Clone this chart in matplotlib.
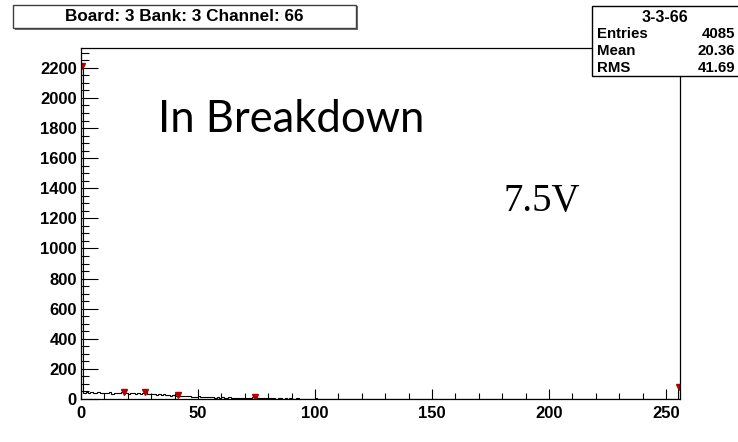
import matplotlib

matplotlib.use("Agg")
import matplotlib.pyplot as plt
import numpy as np
from matplotlib.patches import Rectangle
from matplotlib.ticker import MultipleLocator

# ADC counts per bin (256 bins, 0..255)
counts = [
    2212, 42, 45, 40, 44, 38, 41, 46, 39, 43, 37, 40, 44, 36, 42, 39,
    41, 45, 48, 38, 35, 40, 37, 33, 39, 36, 41, 44, 35, 30, 32, 36,
    28, 30, 26, 31, 24, 27, 22, 25, 21, 28, 20, 18, 22, 17, 19, 15,
    16, 14, 18, 12, 15, 11, 13, 10, 12, 9, 11, 8, 10, 9, 7, 10,
    8, 6, 9, 7, 5, 8, 6, 7, 9, 10, 13, 6, 5, 7, 4, 6,
    5, 4, 6, 3, 5, 4, 3, 5, 2, 4, 3, 2, 4, 3, 1, 3,
    2, 3, 1, 2, 4, 1, 2, 0, 3, 1, 2, 0, 1, 3, 2, 1,
    2, 0, 1, 0, 2, 1, 0, 3, 0, 1, 0, 2, 0, 0, 1, 0,
    0, 2, 0, 0, 1, 0, 0, 0, 2, 0, 1, 0, 0, 1, 0, 0,
    0, 0, 0, 1, 0, 0, 0, 0, 0, 1, 0, 2, 0, 1, 1, 0,
    1, 0, 0, 0, 0, 0, 0, 0, 0, 0, 0, 0, 0, 0, 0, 1,
    1, 0, 0, 0, 0, 0, 0, 0, 0, 0, 0, 0, 0, 1, 0, 0,
    0, 0, 0, 0, 0, 0, 0, 0, 0, 0, 0, 0, 0, 0, 0, 0,
    0, 0, 0, 1, 0, 0, 0, 0, 0, 0, 0, 0, 0, 0, 0, 1,
    1, 0, 0, 0, 0, 0, 0, 0, 0, 0, 0, 0, 0, 0, 0, 0,
    0, 0, 0, 0, 0, 0, 0, 0, 0, 0, 0, 0, 1, 0, 1, 82,
]
# peaks marked by the peak finder
peak_x = [0.5, 18.5, 27.5, 41.5, 74.5, 255.5]
peak_y = [2215, 48, 44, 28, 13, 82]

title = "Board: 3 Bank: 3 Channel: 66"
stats_name = "3-3-66"
stats = [("Entries", "4085"), ("Mean", "20.36"), ("RMS", "41.69")]

plt.rcParams["font.family"] = "Liberation Sans"

fig = plt.figure(figsize=(7.38, 4.42), dpi=100)
ax = fig.add_axes([0.1098, 0.0973, 0.8116, 0.7941])

edges = np.arange(len(counts) + 1)
ax.stairs(counts, edges, color="black", lw=0.8)
ax.plot(peak_x, peak_y, "v", color="#b00000", ms=5, mec="#b00000")

ax.set_xlim(0, 256)
ax.set_ylim(0, 2332)
ax.xaxis.set_major_locator(MultipleLocator(50))
ax.xaxis.set_minor_locator(MultipleLocator(10))
ax.yaxis.set_major_locator(MultipleLocator(200))
ax.yaxis.set_minor_locator(MultipleLocator(50))
ax.tick_params(axis="x", which="major", direction="in", length=7.5, width=0.8, pad=5,
               labelsize=12, top=False)
ax.tick_params(axis="x", which="minor", direction="in", length=4.5, width=0.8, top=False)
ax.tick_params(axis="y", which="major", direction="in", length=12, width=0.8, pad=3,
               labelsize=12, right=False)
ax.tick_params(axis="y", which="minor", direction="in", length=6, width=0.8, right=False)
for lab in ax.get_xticklabels() + ax.get_yticklabels():
    lab.set_fontweight("bold")
for s in ax.spines.values():
    s.set_linewidth(0.9)

# title pave with shadow
fig.patches.append(Rectangle((0.0200, 0.9320), 0.4650, 0.0540, transform=fig.transFigure,
                             facecolor="#707070", edgecolor="none", zorder=1))
fig.patches.append(Rectangle((0.0176, 0.9367), 0.4650, 0.0520, transform=fig.transFigure,
                             facecolor="white", edgecolor="#404040", lw=1.0, zorder=2))
fig.text(0.2501, 0.9627, title, ha="center", va="center", fontsize=12.3, fontweight="bold")

# stats box
fig.patches.append(Rectangle((0.8022, 0.8281), 0.2000, 0.1580, transform=fig.transFigure,
                             facecolor="white", edgecolor="black", lw=1.0, zorder=2))
fig.add_artist(plt.Line2D([0.8022, 1.0], [0.9412, 0.9412], color="black", lw=0.8))
fig.text(0.901, 0.9615, stats_name, ha="center", va="center", fontsize=11.5, fontweight="bold")
for i, (k, v) in enumerate(stats):
    y = 0.9230 - i * 0.0385
    fig.text(0.809, y, k, ha="left", va="center", fontsize=10.8, fontweight="bold")
    fig.text(0.996, y, v, ha="right", va="center", fontsize=10.8, fontweight="bold")

fig.text(158 / 738, 1 - 132 / 442, "In Breakdown", family="Lato", fontsize=31.4,
         ha="left", va="baseline")
fig.text(503 / 738, 1 - 211 / 442, "7.5V", family="Liberation Serif", fontsize=28,
         ha="left", va="baseline")

fig.savefig("out.png", dpi=100)
